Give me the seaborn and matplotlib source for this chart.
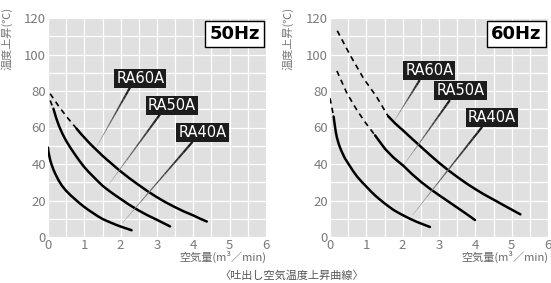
import numpy as np
import pandas as pd
import matplotlib
matplotlib.use("Agg")
import matplotlib.pyplot as plt
from matplotlib.collections import LineCollection
import seaborn as sns

# ---- data ----
models = ["RA40A", "RA50A", "RA60A"]

# 50Hz
ra40_50_dash_x = []
ra40_50_dash_y = []
ra40_50_x = [0.0, 0.01, 0.03, 0.06, 0.1, 0.15, 0.2, 0.29, 0.38, 0.49, 0.62, 0.75, 0.87, 0.99,
             1.12, 1.25, 1.37, 1.49, 1.62, 1.75, 1.87, 1.99, 2.15, 2.3]
ra40_50_y = [49, 47, 45, 42.2, 39.6, 36.9, 34.6, 31.1, 28.2, 25.5, 22.9, 20.6, 18.5, 16.6,
             14.7, 13.0, 11.4, 10.0, 8.8, 7.7, 6.7, 5.8, 4.7, 3.7]
ra50_50_dash_x = [0.06, 0.15]
ra50_50_dash_y = [74.8, 70.3]
ra50_50_x = [0.15, 0.22, 0.3, 0.39, 0.49, 0.62, 0.75, 0.87, 0.99, 1.12, 1.25, 1.37, 1.49,
             1.62, 1.75, 1.87, 1.99, 2.24, 2.49, 2.74, 2.99, 3.18, 3.36]
ra50_50_y = [70.3, 65.5, 61, 56.9, 53, 48.8, 45, 41.6, 38.5, 35.6, 33, 30.6, 28.3,
             26.2, 24.3, 22.6, 21, 17.6, 14.6, 11.9, 9.5, 7.6, 5.8]
ra60_50_dash_x = [0.06, 0.3, 0.55, 0.79]
ra60_50_dash_y = [78.5, 71.5, 65, 59.3]
ra60_50_x = [0.79, 0.89, 0.99, 1.12, 1.25, 1.37, 1.49, 1.62, 1.75, 1.87, 1.99, 2.24, 2.49,
             2.74, 2.99, 3.24, 3.49, 3.74, 3.99, 4.18, 4.37]
ra60_50_y = [59.3, 56.9, 54.7, 51.9, 49.3, 47.0, 44.7, 42.4, 40.2, 38.1, 36.1, 32.2, 28.6,
             25.1, 21.9, 19.0, 16.4, 14.0, 11.9, 10.1, 8.5]

# 60Hz
ra40_60_dash_x = [0.0, 0.05, 0.1]
ra40_60_dash_y = [76, 71, 66]
ra40_60_x = [0.1, 0.13, 0.16, 0.19, 0.24, 0.3, 0.4, 0.51, 0.63, 0.75, 0.88, 1.01, 1.13, 1.25,
             1.38, 1.51, 1.63, 1.75, 1.88, 2.01, 2.2, 2.4, 2.58, 2.75]
ra40_60_y = [66, 61.5, 57.5, 54.5, 51, 47.8, 43.5, 40, 36.3, 33, 30.1, 27.4, 24.9, 22.6,
             20.4, 18.3, 16.5, 14.8, 13.3, 11.9, 10.0, 8.2, 6.8, 5.5]
ra50_60_dash_x = [0.19, 0.46, 0.74, 1.0, 1.24]
ra50_60_dash_y = [91, 79, 69.5, 62, 55.7]
ra50_60_x = [1.24, 1.38, 1.51, 1.63, 1.75, 1.88, 2.01, 2.25, 2.51, 2.76, 3.01, 3.26, 3.51,
             3.75, 3.99]
ra50_60_y = [55.7, 51.9, 48.4, 45.9, 43.5, 41.3, 39.2, 34.6, 30.1, 26.3, 22.8, 19.4, 16.0,
             12.7, 9.3]
ra60_60_dash_x = [0.2, 0.55, 0.92, 1.28, 1.6]
ra60_60_dash_y = [113, 99.8, 87, 76.9, 66.2]
ra60_60_x = [1.6, 1.8, 2.01, 2.26, 2.51, 2.76, 3.01, 3.26, 3.51, 3.76, 4.01, 4.26, 4.51,
             4.88, 5.24]
ra60_60_y = [66.2, 62.1, 58.4, 53.8, 49.3, 44.8, 40.5, 36.5, 32.8, 29.3, 26.1, 23.1, 20.4,
             16.3, 12.4]

# label boxes (centre) and leader lines (start -> end on curve)
lab_50_x = [4.25, 3.41, 2.54]
lab_50_y = [57.1, 72.2, 86.8]
lead_50 = [((3.98, 52.2), (2.04, 7.5)), ((3.09, 67.4), (1.70, 29.5)), ((2.26, 82.0), (1.34, 49.5))]
lab_60_x = [4.46, 3.59, 2.73]
lab_60_y = [65.6, 80.4, 91.2]
lead_60 = [((4.19, 60.4), (2.27, 12.0)), ((3.30, 75.0), (2.05, 40.0)), ((2.47, 86.0), (1.78, 64.0))]

panels = [
    ("50Hz",
     [(ra40_50_dash_x, ra40_50_dash_y, ra40_50_x, ra40_50_y),
      (ra50_50_dash_x, ra50_50_dash_y, ra50_50_x, ra50_50_y),
      (ra60_50_dash_x, ra60_50_dash_y, ra60_50_x, ra60_50_y)],
     lab_50_x, lab_50_y, lead_50),
    ("60Hz",
     [(ra40_60_dash_x, ra40_60_dash_y, ra40_60_x, ra40_60_y),
      (ra50_60_dash_x, ra50_60_dash_y, ra50_60_x, ra50_60_y),
      (ra60_60_dash_x, ra60_60_dash_y, ra60_60_x, ra60_60_y)],
     lab_60_x, lab_60_y, lead_60),
]

sns.set_theme(style="darkgrid", rc={
    "axes.facecolor": "#e0e0e0",
    "grid.color": "white",
    "grid.linewidth": 0.9,
    "xtick.major.size": 0,
    "ytick.major.size": 0,
})
plt.rcParams["font.family"] = ["Noto Sans CJK JP", "DejaVu Sans"]

fig = plt.figure(figsize=(5.51, 2.83), dpi=100)
lefts = [48 / 551, 330 / 551]
ylab_x = [7 / 551, 288 / 551]

for i, (hz, curves, lx, ly, leads) in enumerate(panels):
    ax = fig.add_axes([lefts[i], 46 / 283, 218 / 551, 219 / 283])
    for dx, dy, sx, sy in curves:
        if dx:
            sns.lineplot(x=dx, y=dy, ax=ax, color="black", lw=1.2, sort=False, estimator=None)
            ax.lines[-1].set_linestyle((0, (3.2, 2.6)))
        sns.lineplot(x=sx, y=sy, ax=ax, color="black", lw=1.8, sort=False, estimator=None)

    # tapered leader lines
    for (p0, p1) in leads:
        t = np.linspace(0, 1, 16)
        xs = p0[0] + (p1[0] - p0[0]) * t
        ys = p0[1] + (p1[1] - p0[1]) * t
        segs = [[(xs[k], ys[k]), (xs[k + 1], ys[k + 1])] for k in range(len(t) - 1)]
        widths = np.linspace(1.6, 0.3, len(segs))
        greys = [str(g) for g in np.linspace(0.1, 0.6, len(segs))]
        ax.add_collection(LineCollection(segs, linewidths=widths, colors=greys, capstyle="butt"))

    for name, x, y in zip(models, lx, ly):
        ax.text(x, y, name, color="white", fontsize=10.5, ha="center", va="center",
                family=["DejaVu Sans"],
                bbox=dict(boxstyle="square,pad=0.14", fc="#1c1c1c", ec="none"))

    ax.text(5.13, 111.3, hz, fontsize=13, fontweight="bold", ha="center", va="center",
            family=["DejaVu Sans"], color="black",
            bbox=dict(boxstyle="square,pad=0.22", fc="white", ec="black", lw=1.0))

    ax.set_xlim(0, 6)
    ax.set_ylim(0, 120)
    ax.set_xticks(range(0, 7))
    ax.set_yticks(range(0, 121, 20))
    ax.set_xticks(np.arange(0.5, 6, 1), minor=True)
    ax.set_yticks(range(10, 120, 20), minor=True)
    ax.grid(which="both", color="white", lw=0.9)
    ax.tick_params(axis="both", labelsize=9.5, labelcolor="#7a7a7a", pad=1.5)
    for s in ax.spines.values():
        s.set_visible(False)
    ax.set_xlabel("")
    ax.set_ylabel("")
    ax.text(1.0, -0.065, "空気量(m³／min)", transform=ax.transAxes, ha="right", va="top",
            fontsize=8, color="#666666")
    fig.text(ylab_x[i], 0.975, "温度上昇(℃)", rotation=90, ha="center", va="top",
             fontsize=8, color="#777777")

fig.text(292 / 551, 7 / 283, "〈吐出し空気温度上昇曲線〉", ha="center", va="center",
         fontsize=8, color="#555555")

fig.savefig("out.png", dpi=100)
